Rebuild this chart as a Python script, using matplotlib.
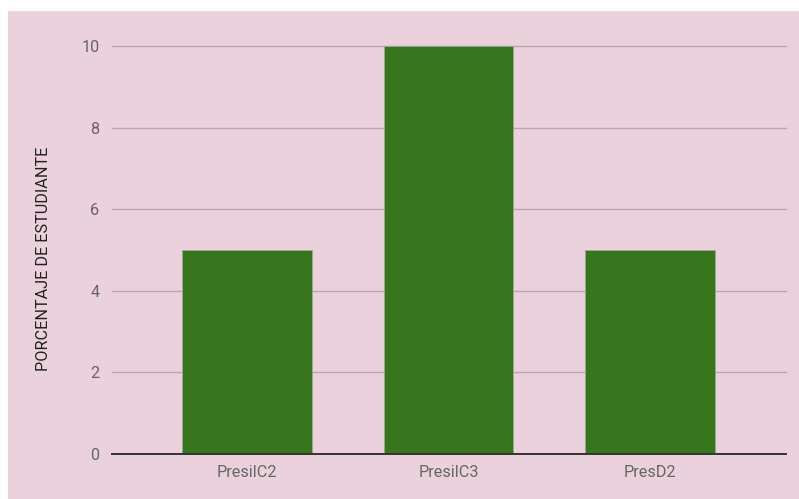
import matplotlib
matplotlib.use('Agg')
import matplotlib.pyplot as plt
from matplotlib.patches import Rectangle

# datos
categorias = ['PresilC2', 'PresilC3', 'PresD2']
valores = [5, 10, 5]
y_ticks = [0, 2, 4, 6, 8, 10]

FONDO = '#ead1dc'
VERDE = '#38761d'
GRIS_TEXTO = '#666666'

plt.rcParams['font.family'] = ['Roboto', 'DejaVu Sans']

fig = plt.figure(figsize=(7.99, 4.99), dpi=100)
fig.patch.set_facecolor('white')
# fondo rosado (con borde blanco arriba e izquierda)
fig.patches.append(Rectangle((8 / 799, 0), 1 - 8 / 799, 1 - 11 / 499,
                             transform=fig.transFigure, facecolor=FONDO,
                             edgecolor='none', zorder=-10))

ax = fig.add_axes([112 / 799, 1 - 454 / 499, (786 - 112) / 799, (454 - 46) / 499])
ax.set_facecolor('none')

x = range(len(categorias))
ax.bar(x, valores, width=0.645, color=VERDE, edgecolor='#9aa894', linewidth=0.6, zorder=3)

ax.set_xlim(-0.67, 2.675)
ax.set_ylim(0, 10)
ax.set_yticks(y_ticks)
ax.set_yticklabels([str(v) for v in y_ticks])
ax.set_xticks(list(x))
ax.set_xticklabels(categorias)

# rejilla
for v in y_ticks[1:]:
    ax.axhline(v, color='#b9a8b0', linewidth=1.0, zorder=1, clip_on=False)
ax.axhline(0, color='#333333', linewidth=1.4, zorder=4, clip_on=False)

for s in ax.spines.values():
    s.set_visible(False)

ax.tick_params(axis='y', length=0, pad=9, labelsize=11.7, labelcolor=GRIS_TEXTO)
ax.tick_params(axis='x', length=0, pad=8, labelsize=11.7, labelcolor=GRIS_TEXTO)

fig.text(44 / 799, 1 - 259 / 499, 'PORCENTAJE DE ESTUDIANTE', rotation=90,
         ha='center', va='center', fontsize=11.7, color='#222222')

fig.savefig('out.png', dpi=100, facecolor='white')
plt.close(fig)
